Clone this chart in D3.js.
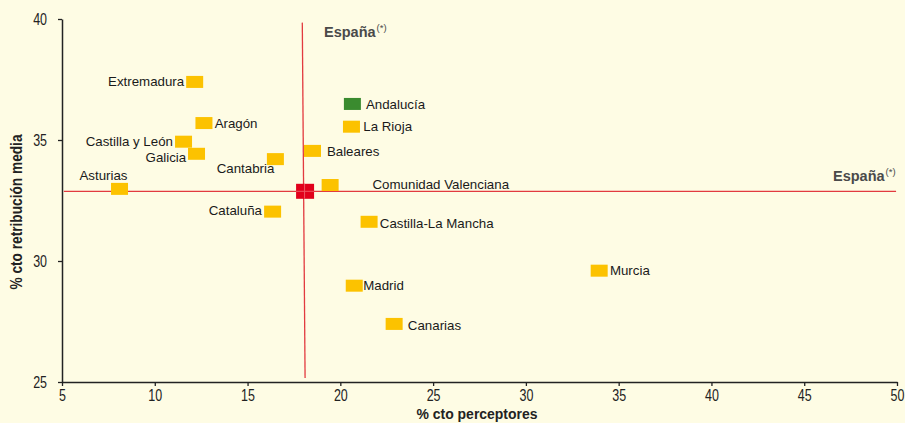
<!DOCTYPE html>
<html><head><meta charset="utf-8">
<script src="https://cdn.jsdelivr.net/npm/d3@7"></script>
<style>
html,body{margin:0;padding:0;background:#FEFCE4;}
svg{display:block;}
</style></head>
<body>
<svg id="chart" width="905" height="423"></svg>
<script>
// ---- data ----
const regions = ["Extremadura","Aragón","Castilla y León","Galicia","Cantabria","Asturias","Cataluña","Andalucía","La Rioja","Baleares","Comunidad Valenciana","Castilla-La Mancha","Madrid","Canarias","Murcia"];
const perceptores = [12.15,12.65,11.55,12.25,16.5,8.1,16.35,20.65,20.6,18.5,19.45,21.55,20.75,22.9,33.95];
const retribucion = [37.4,35.7,34.93,34.43,34.21,32.98,32.04,36.49,35.55,34.55,33.14,31.62,28.98,27.4,29.6];
const highlighted = ["Andalucía"];
const espana = {x:18.1, y:32.88};
const xTicks = [5,10,15,20,25,30,35,40,45,50];
const yTicks = [25,30,35,40];
// label placement (px offsets from marker centre)
const labelDx = [-10.5,10.7,-10.6,-10.3,-1,8,-10.6,13.5,11.8,14.4,42.4,10.7,9,13.7,10.7];
const labelDy = [-1,0,0,4,9.3,-13.3,-1,0,0,0,-1,1.5,0,1,0];
const labelAnchor = ["end","start","end","end","end","end","end","start","start","start","start","start","start","start","start"];

const svg = d3.select("#chart");
const x = d3.scaleLinear().domain([5,50]).range([62,897]);
const y = d3.scaleLinear().domain([25,40]).range([382,19]);
const sans = "'Liberation Sans',Arial,sans-serif";
const sx = 0.78; // condensed look for axis text

// axes
const xAxis = svg.append("g").attr("transform","translate(0,382)")
  .call(d3.axisBottom(x).tickValues(xTicks).tickSize(4).tickSizeOuter(0));
const yAxis = svg.append("g").attr("transform","translate(62,0)")
  .call(d3.axisLeft(y).tickValues(yTicks).tickSize(4).tickSizeOuter(0));
[xAxis,yAxis].forEach(g=>{
  g.select(".domain").attr("stroke","#222").attr("stroke-width",1.5);
  g.selectAll(".tick line").attr("stroke","#222").attr("stroke-width",1.3);
  g.selectAll(".tick text").attr("fill","#222").attr("font-family",sans).attr("font-size",16);
});
xAxis.selectAll(".tick text").attr("y",8).attr("dy","0.71em").attr("transform",`scale(${sx},1)`);
yAxis.selectAll(".tick text").attr("x",-15/sx).attr("dy","0.35em").attr("transform",`scale(${sx},1)`);

// axis titles
svg.append("text").attr("x",477).attr("y",418.5).attr("text-anchor","middle")
  .attr("font-family",sans).attr("font-weight","bold").attr("font-size",15).attr("fill","#222")
  .attr("textLength",121).attr("lengthAdjust","spacingAndGlyphs")
  .text("% cto perceptores");
svg.append("text").attr("transform","translate(22,212) rotate(-90)").attr("text-anchor","middle")
  .attr("font-family",sans).attr("font-weight","bold").attr("font-size",16).attr("fill","#222")
  .attr("textLength",155).attr("lengthAdjust","spacingAndGlyphs")
  .text("% cto retribución media");

// España reference lines
svg.append("line").attr("x1",x(5.1)).attr("x2",x(49.95)).attr("y1",y(espana.y)).attr("y2",y(espana.y))
  .attr("stroke","#E23A3F").attr("stroke-width",1.3);
svg.append("line").attr("x1",x(17.95)).attr("x2",x(espana.x)).attr("y1",y(39.85)).attr("y2",y(25.17))
  .attr("stroke","#E23A3F").attr("stroke-width",1.3);

// markers
const mw=17, mh=12;
svg.append("g").selectAll("rect").data(regions).join("rect")
  .attr("x",(d,i)=>x(perceptores[i])-mw/2)
  .attr("y",(d,i)=>y(retribucion[i])-mh/2)
  .attr("width",mw).attr("height",mh)
  .attr("fill",d=>highlighted.includes(d)?"#3A8B2F":"#FCC200");

// España marker
svg.append("rect").attr("x",x(espana.x)-9).attr("y",y(espana.y)-7.5).attr("width",18).attr("height",15)
  .attr("fill","#E1001B");
svg.append("line").attr("x1",x(espana.x)-9).attr("x2",x(espana.x)+9).attr("y1",y(espana.y)).attr("y2",y(espana.y))
  .attr("stroke","#EE5560").attr("stroke-width",1);
svg.append("line").attr("x1",x(espana.x)-0.5).attr("x2",x(espana.x)-0.5).attr("y1",y(espana.y)-7.5).attr("y2",y(espana.y)+7.5)
  .attr("stroke","#EE5560").attr("stroke-width",1);

// labels
svg.append("g").selectAll("text").data(regions).join("text")
  .attr("x",(d,i)=>x(perceptores[i])+labelDx[i])
  .attr("y",(d,i)=>y(retribucion[i])+labelDy[i])
  .attr("dy","0.35em")
  .attr("text-anchor",(d,i)=>labelAnchor[i])
  .attr("font-family",sans).attr("font-size",13.3).attr("fill","#1a1a1a")
  .text(d=>d);

// España labels
function espLabel(px,py){
  const t = svg.append("text").attr("x",px).attr("y",py).attr("font-family",sans)
    .attr("font-weight","bold").attr("font-size",14.5).attr("fill","#4a4a4a");
  t.append("tspan").text("España");
  t.append("tspan").attr("font-size",9.5).attr("font-weight","normal").attr("dy",-6).attr("dx",1).text("(*)");
}
espLabel(324,37);
espLabel(833,181);
</script>
</body></html>
